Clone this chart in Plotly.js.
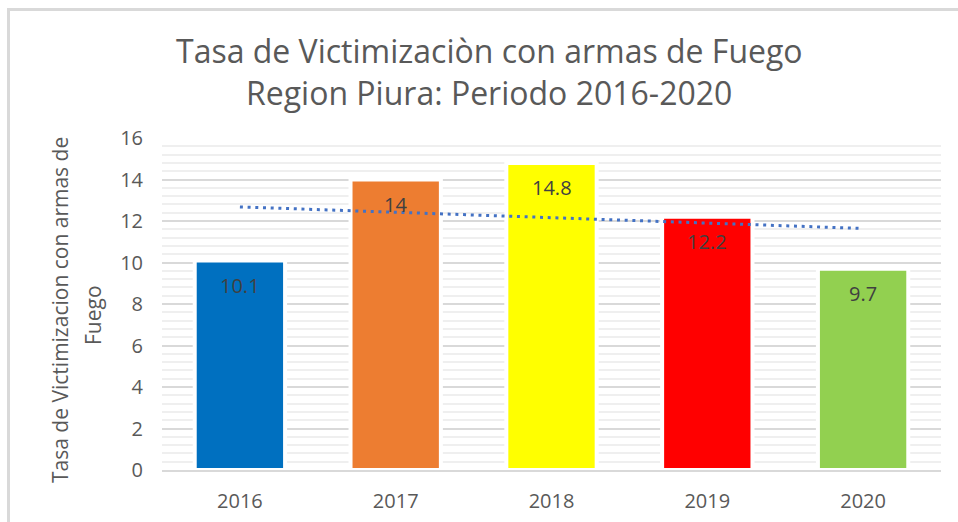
<!DOCTYPE html>
<html>
<head>
<meta charset="utf-8">
<script src="https://cdn.plot.ly/plotly-3.0.1.min.js"></script>
<style>
  html, body { margin: 0; padding: 0; background: #ffffff; }
  #wrap { position: relative; width: 958px; height: 522px; overflow: hidden; }
  #chart { position: absolute; left: 0; top: 0; width: 958px; height: 522px; }
  #frame { position: absolute; left: 7px; top: 8px; width: 1000px; height: 600px;
           border-top: 3px solid #d9d9d9; border-left: 3px solid #d9d9d9; pointer-events: none; }
</style>
</head>
<body>
<div id="wrap">
  <div id="chart"></div>
  <div id="frame"></div>
</div>
<script>
// ---- data ----
const years = ["2016", "2017", "2018", "2019", "2020"];
const rates = [10.1, 14, 14.8, 12.2, 9.7];
const barColors = ["#0070c0", "#ed7d31", "#ffff00", "#ff0000", "#92d050"];
const yTicks = [0, 2, 4, 6, 8, 10, 12, 14, 16];
const titleLines = ["Tasa de Victimizaciòn con armas de Fuego", "Region Piura: Periodo 2016-2020"];
const yTitleLines = ["Tasa de Victimizacion con armas de", "Fuego"];

// linear trendline (least squares over the bars, as in the original spreadsheet)
const n = rates.length;
const xs = rates.map((_, i) => i + 1);
const mx = xs.reduce((a, b) => a + b, 0) / n;
const my = rates.reduce((a, b) => a + b, 0) / n;
let sxy = 0, sxx = 0;
for (let i = 0; i < n; i++) { sxy += (xs[i] - mx) * (rates[i] - my); sxx += (xs[i] - mx) ** 2; }
const slope = sxy / sxx;
const trendY = [my + slope * (xs[0] - mx), my + slope * (xs[n - 1] - mx)];
const trendX = [years[0], years[n - 1]];

const FONT = "Open Sans, Noto Sans, sans-serif";

const bars = {
  type: "bar",
  x: years,
  y: rates,
  width: 0.58,
  marker: { color: barColors, line: { color: "#ffffff", width: 4 } },
  hoverinfo: "skip",
  showlegend: false
};

const trend = {
  type: "scatter",
  mode: "lines",
  x: trendX,
  y: trendY,
  line: { color: "#4472c4", width: 3, dash: "3px,4.7px" },
  hoverinfo: "skip",
  showlegend: false
};

const labelAnns = years.map((yr, i) => ({
  x: i, y: rates[i], xref: "x", yref: "y",
  text: String(rates[i]),
  showarrow: false, yanchor: "middle", yshift: -25,
  font: { family: FONT, size: 20, color: "#404040" }
}));

const PL = 162, PR = 941, PT = 138, PB = 470;
const px = v => (v - PL) / (PR - PL);
const py = v => (PB - v) / (PB - PT);

const yTitleAnns = [
  { text: yTitleLines[0], x: 60, y: 310 },
  { text: yTitleLines[1], x: 93, y: 315 }
].map(a => ({
  text: a.text, xref: "paper", yref: "paper",
  x: px(a.x), y: py(a.y),
  xanchor: "center", yanchor: "middle", textangle: -90, showarrow: false,
  font: { family: FONT, size: 21, color: "#595959" }
}));

const titleAnns = [
  { text: titleLines[0], y: 50 },
  { text: titleLines[1], y: 92 }
].map(a => ({
  text: a.text, xref: "paper", yref: "paper",
  x: px(489), y: py(a.y),
  xanchor: "center", yanchor: "middle", showarrow: false,
  font: { family: FONT, size: 32, color: "#595959" }
}));

const layout = {
  width: 958, height: 522,
  margin: { l: PL, r: 958 - PR, t: PT, b: 522 - PB },
  paper_bgcolor: "#ffffff", plot_bgcolor: "#ffffff",
  xaxis: {
    type: "category",
    categoryorder: "array",
    categoryarray: years,
    range: [-0.5, 4.5],
    showgrid: false,
    showline: true, linecolor: "#d9d9d9", linewidth: 2,
    ticks: "",
    ticklabelstandoff: 12,
    tickfont: { family: FONT, size: 20, color: "#595959" },
    fixedrange: true
  },
  yaxis: {
    range: [0, 16],
    tickvals: yTicks,
    ticktext: yTicks.map(String),
    showgrid: true, gridcolor: "#d9d9d9", gridwidth: 2,
    zeroline: false,
    minor: { dtick: 0.4, showgrid: true, gridcolor: "#efefef", gridwidth: 2 },
    ticks: "",
    ticklabelstandoff: 18,
    tickfont: { family: FONT, size: 20, color: "#595959" },
    fixedrange: true
  },
  annotations: labelAnns.concat(yTitleAnns, titleAnns),
  showlegend: false
};

Plotly.newPlot("chart", [bars, trend], layout, { displayModeBar: false, staticPlot: true });
</script>
</body>
</html>
